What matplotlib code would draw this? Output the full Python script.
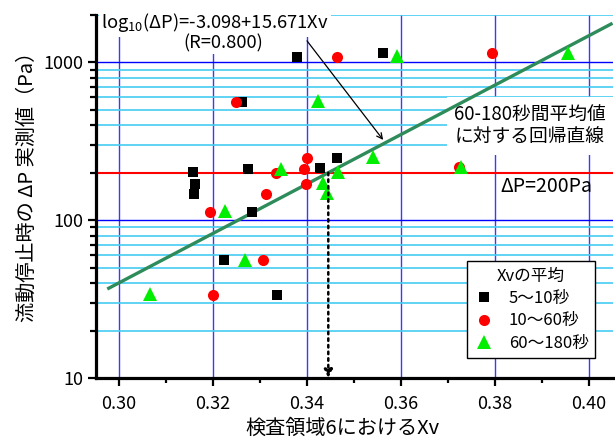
import numpy as np
import matplotlib
matplotlib.use('Agg')
import matplotlib.pyplot as plt
from matplotlib.ticker import MultipleLocator, FixedLocator, NullFormatter, FixedFormatter

plt.rcParams['font.family'] = ['Noto Sans CJK JP', 'DejaVu Sans']
plt.rcParams['axes.unicode_minus'] = False

# ── data ──
XV_5_10  = [0.3157, 0.3162, 0.3160, 0.3275, 0.3283, 0.3428, 0.3464, 0.3223, 0.3336, 0.3378, 0.3561, 0.3261]
DP_5_10  = [201, 170, 147, 211, 113, 214, 247, 56, 33.4, 1080, 1155, 560]

XV_10_60 = [0.3194, 0.3313, 0.3333, 0.3401, 0.3394, 0.3397, 0.3306, 0.3199, 0.3248, 0.3464, 0.3794, 0.3724]
DP_10_60 = [113, 147, 200, 248, 211, 170, 56, 33.4, 562, 1080, 1155, 217]

XV_60_180 = [0.3066, 0.3226, 0.3267, 0.3345, 0.3435, 0.3442, 0.3466, 0.3424, 0.3592, 0.3541, 0.3727, 0.3955]
DP_60_180 = [34.0, 114, 56, 212, 172, 148, 202, 569, 1100, 251, 216, 1155]

LABELS = ['5～10秒', '10～60秒', '60～180秒']

# regression on 60-180 s averages: log10(dP) = A + B*Xv
REG_A = -3.098
REG_B = 15.671
REG_R = 0.800
REG_RANGE = (0.2975, 0.405)

DP_LIMIT = 200

XTICKS = [0.30, 0.32, 0.34, 0.36, 0.38, 0.40]
YTICKS = [10, 100, 1000]

# ── figure ──
W, H = 615, 445
fig = plt.figure(figsize=(W / 100, H / 100), dpi=100)
L, R, T, B = 96, 613, 15, 378
ax = fig.add_axes([L / W, 1 - B / H, (R - L) / W, (B - T) / H])

def fx(px):
    return (px - L) / (R - L)

def fy(py):
    return (B - py) / (B - T)

ax.set_yscale('log')
ax.set_xlim(0.2951, 0.4051)
ax.set_ylim(10, 2000)

ax.set_axisbelow(True)
ax.xaxis.set_major_locator(FixedLocator(XTICKS))
ax.xaxis.set_major_formatter(FixedFormatter(['%.2f' % v for v in XTICKS]))
ax.xaxis.set_minor_locator(MultipleLocator(0.01))
ax.yaxis.set_major_locator(FixedLocator(YTICKS))
ax.yaxis.set_major_formatter(FixedFormatter([str(v) for v in YTICKS]))
ax.yaxis.set_minor_formatter(NullFormatter())

ax.grid(True, which='major', axis='x', color='#3a3aff', lw=1.0)
ax.grid(True, which='major', axis='y', color='#0000ff', lw=1.0)
ax.grid(True, which='minor', axis='y', color='#45ccf2', lw=1.2)

for s in ['top', 'right']:
    ax.spines[s].set_visible(False)
for s in ['left', 'bottom']:
    ax.spines[s].set_linewidth(2.3)

ax.tick_params(axis='both', which='major', width=1.6, labelsize=13)
ax.tick_params(axis='y', which='major', length=6, pad=3)
ax.tick_params(axis='y', which='minor', length=4, width=1.6)
ax.tick_params(axis='x', which='major', length=5.5, pad=7)
ax.tick_params(axis='x', which='minor', length=3.5, width=1.6)

ax.axhline(DP_LIMIT, color='red', lw=1.5, zorder=1)

# regression line
xr = np.array(REG_RANGE)
ax.plot(xr, 10 ** (REG_A + REG_B * xr), color='#2e8b5a', lw=2.4, zorder=3,
        solid_capstyle='butt')

# points
h1, = ax.plot(XV_5_10, DP_5_10, 's', color='black', ms=6.8, mew=0, zorder=4)
h2, = ax.plot(XV_10_60, DP_10_60, 'o', color='red', ms=8, mew=0, zorder=4)
h3, = ax.plot(XV_60_180, DP_60_180, '^', color='#00ee00', ms=9.5, mew=0, zorder=4)

# texts
box = dict(facecolor='white', edgecolor='none', pad=1.5)
ax.text(fx(215), fy(23), 'log$_{\\mathregular{10}}$(ΔP)=-3.098+15.671Xv',
        transform=ax.transAxes, ha='center', va='center', fontsize=13.2,
        bbox=box, zorder=2)
ax.text(fx(223), fy(43), '(R=%.3f)' % REG_R, transform=ax.transAxes,
        ha='center', va='center', fontsize=13.2, bbox=box, zorder=2)
ax.text(fx(530), fy(126), '60-180秒間平均値\nに対する回帰直線', transform=ax.transAxes,
        ha='center', va='center', fontsize=13.5, linespacing=1.15,
        bbox=dict(facecolor='white', edgecolor='none', pad=5), zorder=2)
ax.text(fx(500), fy(187), 'ΔP=200Pa', transform=ax.transAxes,
        ha='left', va='center', fontsize=14, zorder=2)

# arrows
ax.annotate('', xy=(0.3562, 323), xytext=(0.3400, 1371),
            arrowprops=dict(arrowstyle='->', color='black', lw=0.9,
                            shrinkA=0, shrinkB=0, mutation_scale=10), zorder=5)
x_cross = (np.log10(DP_LIMIT) - REG_A) / REG_B
ax.annotate('', xy=(x_cross, 10), xytext=(x_cross, DP_LIMIT),
            arrowprops=dict(arrowstyle='-|>', color='black', lw=1.8, linestyle=':',
                            shrinkA=0, shrinkB=0, mutation_scale=12), zorder=5)

ax.set_xlabel('検査領域6におけるXv', fontsize=14.5)
ax.set_ylabel('流動停止時の ΔP 実測値（Pa）', fontsize=14.5)
ax.xaxis.set_label_coords(fx(342), fy(418))
ax.yaxis.set_label_coords(fx(38), fy(182))

leg = ax.legend([h1, h2, h3], LABELS, title='Xvの平均', loc='upper left',
                bbox_to_anchor=(fx(467), fy(261)), borderaxespad=0,
                fancybox=False, edgecolor='black', framealpha=1,
                fontsize=12, title_fontsize=12, handlelength=1.2,
                handletextpad=0.9, labelspacing=0.32, borderpad=0.4)
leg.get_frame().set_linewidth(1.0)
leg.set_zorder(6)

fig.savefig('out.png', dpi=100)
